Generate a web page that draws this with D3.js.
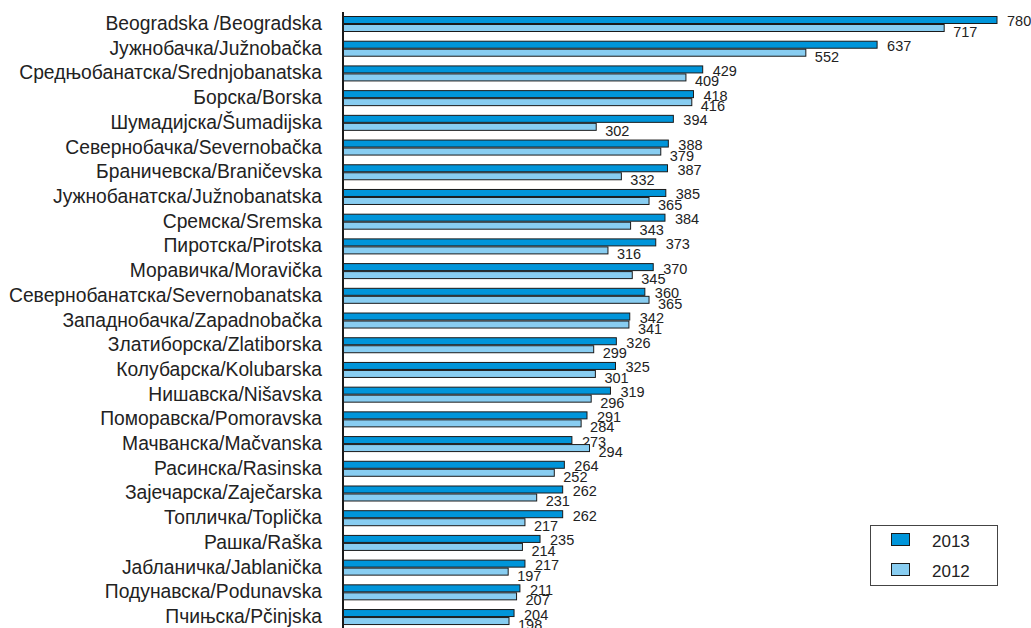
<!DOCTYPE html>
<html><head><meta charset="utf-8">
<script src="https://cdn.jsdelivr.net/npm/d3@7"></script>
<style>body{margin:0;background:#fff}svg{display:block}text{font-family:"Liberation Sans",Arial,sans-serif;fill:#222}</style>
</head><body><svg id="c" width="1031" height="628"></svg>
<script>
const categories = ["Beogradska /Beogradska","Јужнобачка/Južnobačka","Средњобанатска/Srednjobanatska","Борска/Borska","Шумадијска/Šumadijska","Севернобачка/Severnobačka","Браничевска/Braničevska","Јужнобанатска/Južnobanatska","Сремска/Sremska","Пиротска/Pirotska","Моравичка/Moravička","Севернобанатска/Severnobanatska","Западнобачка/Zapadnobačka","Златиборска/Zlatiborska","Колубарска/Kolubarska","Нишавска/Nišavska","Поморавска/Pomoravska","Мачванска/Mačvanska","Расинска/Rasinska","Зајечарска/Zaječarska","Топличка/Toplička","Рашка/Raška","Јабланичка/Jablanička","Подунавска/Podunavska","Пчињска/Pčinjska"];
const values2013 = [780,637,429,418,394,388,387,385,384,373,370,360,342,326,325,319,291,273,264,262,262,235,217,211,204];
const values2012 = [717,552,409,416,302,379,332,365,343,316,345,365,341,299,301,296,284,294,252,231,217,214,197,207,198];
const seriesNames = ["2013","2012"];
const colors = {"2013":"#0095da","2012":"#88cdf1"};

const svg = d3.select("#c");
const x = d3.scaleLinear().domain([0,780]).range([343,997]);
const y = d3.scaleBand().domain(categories).range([11.65,629.4]).padding(0);
const bw = y.bandwidth();
const ys = d3.scaleBand().domain(seriesNames).range([bw/2-8, bw/2+8]);

const rows = categories.map((c,i)=>({c, v:{"2013":values2013[i],"2012":values2012[i]}}));
const g = svg.selectAll("g.row").data(rows).join("g").attr("class","row")
  .attr("transform",d=>`translate(0,${y(d.c)})`);

seriesNames.forEach(s=>{
  g.append("rect").attr("x",x(0)).attr("y",ys(s)+0.5)
    .attr("width",d=>x(d.v[s])-x(0)).attr("height",ys.bandwidth()-1)
    .attr("fill",colors[s]).attr("stroke","#1a1a1a").attr("stroke-width",1);
  g.append("text").attr("x",d=>x(d.v[s])+(s==="2013"?10:9))
    .attr("y",s==="2013"? bw/2+2.5 : bw/2+13)
    .attr("font-size",14.5).text(d=>d.v[s]);
});

g.append("text").attr("x",322).attr("y",bw/2+6).attr("text-anchor","end")
  .attr("font-size",19.3).text(d=>d.c);

svg.append("line").attr("x1",343).attr("x2",343).attr("y1",12).attr("y2",628)
  .attr("stroke","#1a1a1a").attr("stroke-width",2);

const lg = svg.append("g");
lg.append("rect").attr("x",870.5).attr("y",525.5).attr("width",127).attr("height",60)
  .attr("fill","#fff").attr("stroke","#444").attr("stroke-width",1);
seriesNames.forEach((s,i)=>{
  lg.append("rect").attr("x",891.5).attr("y",533.5+i*30).attr("width",18).attr("height",12)
    .attr("fill",colors[s]).attr("stroke","#1a1a1a");
  lg.append("text").attr("x",932).attr("y",546.5+i*30).attr("font-size",17).text(s);
});
</script></body></html>
